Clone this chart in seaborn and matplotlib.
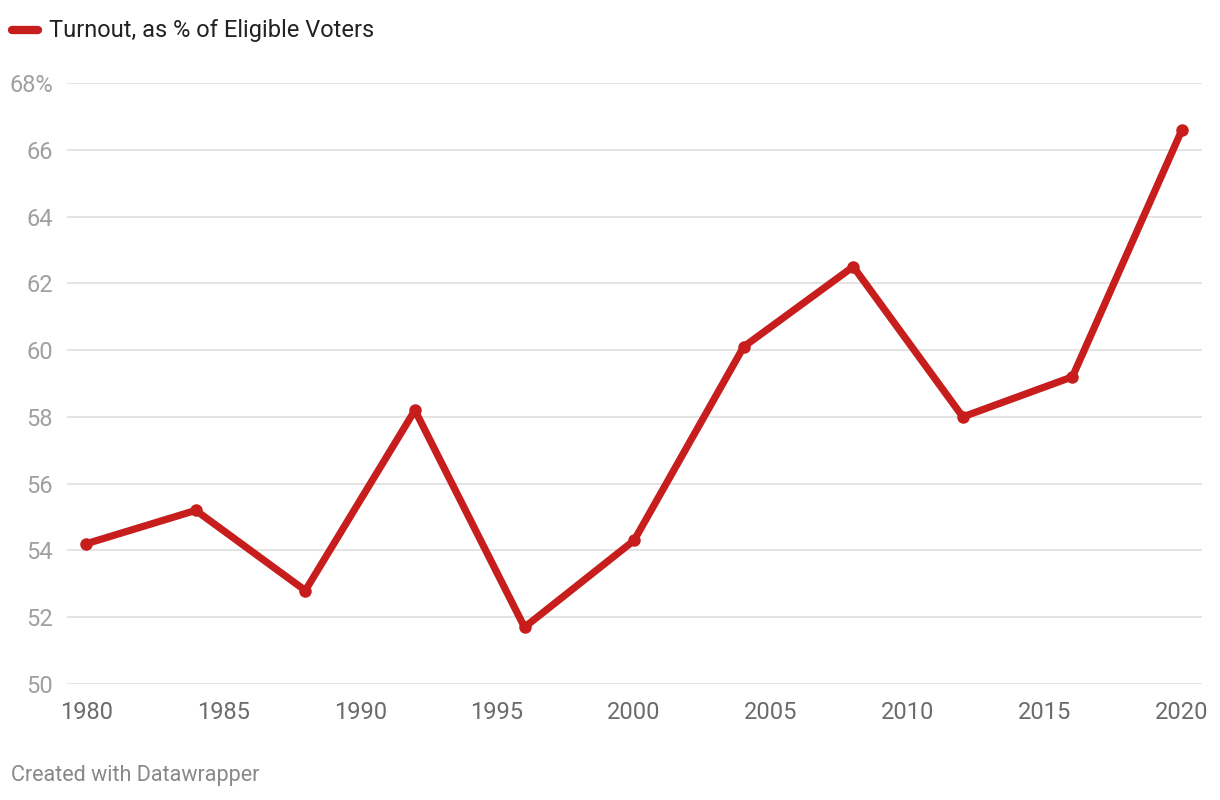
import matplotlib
matplotlib.use("Agg")
import matplotlib.pyplot as plt
import seaborn as sns
import pandas as pd

years = [1980, 1984, 1988, 1992, 1996, 2000, 2004, 2008, 2012, 2016, 2020]
turnout = [54.2, 55.2, 52.8, 58.2, 51.7, 54.3, 60.1, 62.5, 58.0, 59.2, 66.6]
y_ticks = [50, 52, 54, 56, 58, 60, 62, 64, 66, 68]
x_ticks = [1980, 1985, 1990, 1995, 2000, 2005, 2010, 2015, 2020]
series_name = "Turnout, as % of Eligible Voters"

df = pd.DataFrame({"year": years, "turnout": turnout})

sns.set_theme(style="white")
plt.rcParams["font.family"] = ["Roboto", "DejaVu Sans"]

RED = "#c71e1d"

fig = plt.figure(figsize=(12.2, 8), dpi=100)
ax = fig.add_axes([67 / 1220, 116 / 800, (1202 - 67) / 1220, (684 - 83) / 800])

sns.lineplot(data=df, x="year", y="turnout", ax=ax, color=RED, linewidth=5.2,
             marker="o", markersize=9, markeredgewidth=0, zorder=3)

ax.set_xlim(1979.3, 2020.73)
ax.set_ylim(50, 68)
ax.set_yticks(y_ticks)
ax.set_xticks(x_ticks)
ax.set_xticklabels([str(x) for x in x_ticks])
ax.set_yticklabels([f"{t}%" if t == y_ticks[-1] else str(t) for t in y_ticks])
ax.tick_params(axis="y", length=0, pad=10, labelsize=17, labelcolor="#a0a0a0")
ax.tick_params(axis="x", length=0, pad=12, labelsize=17, labelcolor="#6b6b6b")
ax.grid(axis="y", color="#e2e2e2", linewidth=1.3, zorder=0)
ax.grid(axis="x", visible=False)
for s in ax.spines.values():
    s.set_visible(False)
ax.set_xlabel("")
ax.set_ylabel("")

# legend
fig.add_artist(plt.Line2D([12 / 1220, 38 / 1220], [770 / 800, 770 / 800],
                          color=RED, linewidth=6, solid_capstyle="round",
                          transform=fig.transFigure))
fig.text(49 / 1220, 770 / 800, series_name, fontsize=17, color="#222222",
         va="center", ha="left")

fig.text(11 / 1220, 24 / 800, "Created with Datawrapper", fontsize=15.5,
         color="#888888", va="center", ha="left")

fig.savefig("out.png", dpi=100, facecolor="white")
